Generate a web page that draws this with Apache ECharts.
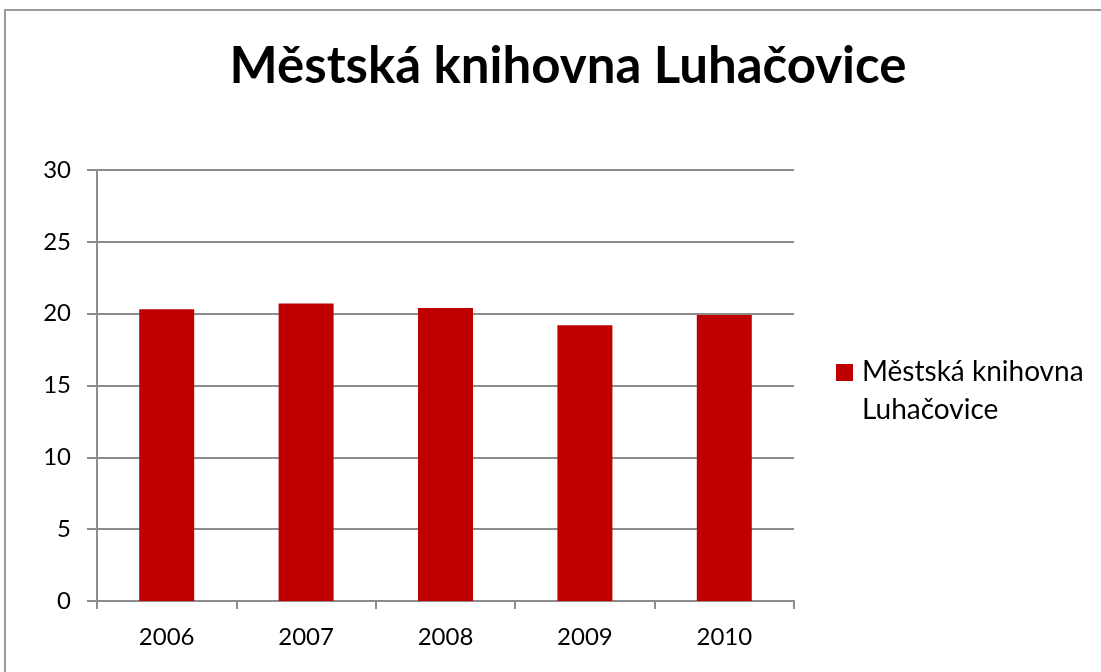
<!DOCTYPE html>
<html>
<head>
<meta charset="utf-8">
<script src="https://cdn.jsdelivr.net/npm/echarts@6/dist/echarts.min.js"></script>
<style>
	html, body {
		margin: 0;
		padding: 0;
		background: #fff;
		overflow: hidden;
	}
	#myChart {
		width: 1101px;
		height: 672px;
	}
</style>
</head>
<body>
<div id="myChart"></div>
<script>
// data
var years = ["2006", "2007", "2008", "2009", "2010"];
var values = [20.3, 20.7, 20.4, 19.2, 19.9];
var seriesName = "Městská knihovna Luhačovice";
var titleText = "Městská knihovna Luhačovice";

var font = "Lato, 'Open Sans', sans-serif";

var myChart = echarts.init(document.getElementById("myChart"));
var option = {
	animation: false,
	title: {
		text: titleText,
		top: 36,
		left: 563,
		textAlign: "center",
		textStyle: {
			fontFamily: font,
			fontSize: 51,
			fontWeight: "bold",
			color: "#000",
		},
	},
	// outer frame, only top and left edges are visible
	graphic: [
		{
			type: "polyline",
			shape: { points: [[5, 700], [5, 10], [1130, 10]] },
			style: { fill: "none", stroke: "#9a9a9a", lineWidth: 2 },
		},
	],
	legend: {
		orient: "vertical",
		left: 836,
		top: 353,
		padding: 0,
		itemWidth: 17,
		itemHeight: 76,
		// square next to the first text line (tiny points keep the box 76 high)
		icon: "path://M0,0L0.01,0 M0,11L17,11L17,28L0,28Z M0,76L0.01,76",
		formatter: function () {
			return "Městská knihovna\nLuhačovice";
		},
		textStyle: {
			fontFamily: font,
			fontSize: 28,
			lineHeight: 38,
			color: "#000",
			padding: [0, 0, 0, 4],
		},
	},
	grid: {
		left: 97,
		right: 307,
		top: 170,
		bottom: 71,
	},
	xAxis: {
		type: "category",
		data: years,
		axisLine: { lineStyle: { color: "#8c8c8c", width: 2 } },
		axisTick: {
			show: true,
			length: 8,
			lineStyle: { color: "#8c8c8c", width: 2 },
		},
		axisLabel: {
			fontFamily: font,
			fontSize: 24,
			color: "#000",
			margin: 24,
		},
	},
	yAxis: {
		type: "value",
		min: 0,
		max: 30,
		interval: 5,
		axisLine: { show: true, lineStyle: { color: "#8c8c8c", width: 2 } },
		axisTick: {
			show: true,
			length: 10,
			lineStyle: { color: "#8c8c8c", width: 2 },
		},
		splitLine: { lineStyle: { color: "#8c8c8c", width: 2 } },
		axisLabel: {
			fontFamily: font,
			fontSize: 24,
			color: "#000",
			margin: 26,
		},
	},
	series: [
		{
			name: seriesName,
			type: "bar",
			data: values,
			barWidth: 55,
			itemStyle: { color: "#c00000" },
		},
	],
};
myChart.setOption(option);
</script>
</body>
</html>
